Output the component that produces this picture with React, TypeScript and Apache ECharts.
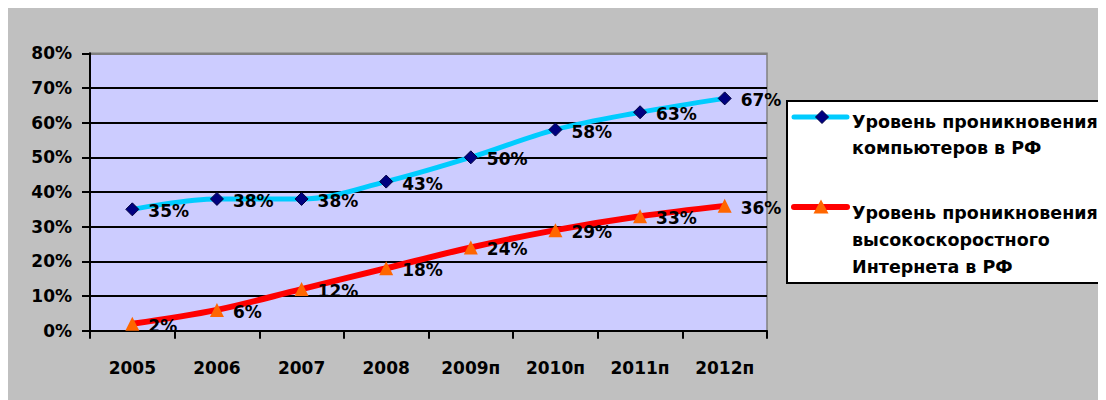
import React, { useEffect, useRef } from "react";
import * as echarts from "echarts";

const categories = ["2005", "2006", "2007", "2008", "2009п", "2010п", "2011п", "2012п"];
const computers = [35, 38, 38, 43, 50, 58, 63, 67];
const internet = [2, 6, 12, 18, 24, 29, 33, 36];
const seriesNames = [
  "Уровень проникновения\nкомпьютеров в РФ",
  "Уровень проникновения\nвысокоскоростного\nИнтернета в РФ",
];
const yTicks = { min: 0, max: 80, interval: 10 };

const FONT = "'DejaVu Sans', sans-serif";
const CYAN = "#00CCFF";
const NAVY = "#000080";
const RED = "#FF0000";
const ORANGE = "#FF6600";

export default function App() {
  const ref = useRef<HTMLDivElement>(null);
  useEffect(() => {
    if (!ref.current) return;
    const chart = echarts.init(ref.current, null, { renderer: "svg" });
    const label = {
      show: true,
      position: "right",
      distance: 9,
      offset: [0, 2],
      formatter: "{c}%",
      fontFamily: FONT,
      fontWeight: "bold",
      fontSize: 17,
      color: "#000",
    };
    chart.setOption({
      animation: false,
      backgroundColor: "#C0C0C0",
      grid: {
        left: 82,
        top: 45.3,
        width: 677,
        height: 277.4,
        show: true,
        backgroundColor: "#CCCCFF",
        borderColor: "#808080",
        borderWidth: 1.5,
      },
      xAxis: {
        type: "category",
        data: categories,
        boundaryGap: true,
        axisLine: { lineStyle: { color: "#000", width: 2 } },
        axisTick: { show: true, length: 8, interval: 0, lineStyle: { color: "#000", width: 2 } },
        axisLabel: {
          interval: 0,
          margin: 29,
          fontFamily: FONT,
          fontWeight: "bold",
          fontSize: 17,
          color: "#000",
        },
        splitLine: { show: false },
      },
      yAxis: {
        type: "value",
        min: yTicks.min,
        max: yTicks.max,
        interval: yTicks.interval,
        axisLine: { show: true, lineStyle: { color: "#000", width: 2 } },
        axisTick: { show: true, length: 8, lineStyle: { color: "#000", width: 2 } },
        axisLabel: {
          margin: 18,
          formatter: "{value}%",
          fontFamily: FONT,
          fontWeight: "bold",
          fontSize: 17,
          color: "#000",
        },
        splitLine: {
          show: true,
          lineStyle: {
            color: ["#000", "#000", "#000", "#000", "#000", "#000", "#000", "#000", "#808080"],
            width: 2,
          },
        },
      },
      series: [
        {
          name: seriesNames[0],
          type: "line",
          data: computers,
          smooth: 0.35,
          symbol: "diamond",
          symbolSize: 13,
          lineStyle: { color: CYAN, width: 5 },
          itemStyle: { color: NAVY, borderColor: "#000040", borderWidth: 1 },
          label,
          z: 2,
        },
        {
          name: seriesNames[1],
          type: "line",
          data: internet,
          smooth: 0.35,
          symbol: "triangle",
          symbolSize: 14,
          lineStyle: { color: RED, width: 6 },
          itemStyle: { color: ORANGE },
          label,
          z: 3,
        },
      ],
      graphic: [
        {
          type: "rect",
          shape: { x: 779, y: 93, width: 340, height: 182 },
          style: { fill: "#fff", stroke: "#000", lineWidth: 2 },
          z: 10,
        },
        {
          type: "line",
          shape: { x1: 786, y1: 109, x2: 839, y2: 109 },
          style: { stroke: CYAN, lineWidth: 5, lineCap: "round" },
          z: 11,
        },
        {
          type: "polygon",
          shape: { points: [[814, 102.5], [820.5, 109], [814, 115.5], [807.5, 109]] },
          style: { fill: NAVY, stroke: "#000040", lineWidth: 1 },
          z: 12,
        },
        {
          type: "text",
          x: 844,
          y: 100.5,
          style: {
            text: seriesNames[0],
            font: `bold 17.5px ${FONT}`,
            lineHeight: 26,
            fill: "#000",
            verticalAlign: "top",
          },
          z: 12,
        },
        {
          type: "line",
          shape: { x1: 786, y1: 199, x2: 839, y2: 199 },
          style: { stroke: RED, lineWidth: 6, lineCap: "round" },
          z: 11,
        },
        {
          type: "polygon",
          shape: { points: [[813, 191.5], [820.5, 205.5], [805.5, 205.5]] },
          style: { fill: ORANGE },
          z: 12,
        },
        {
          type: "text",
          x: 844,
          y: 191,
          style: {
            text: seriesNames[1],
            font: `bold 17.5px ${FONT}`,
            lineHeight: 27,
            fill: "#000",
            verticalAlign: "top",
          },
          z: 12,
        },
      ],
    });
    return () => chart.dispose();
  }, []);
  return <div ref={ref} style={{ width: 1098, height: 392 }} />;
}
